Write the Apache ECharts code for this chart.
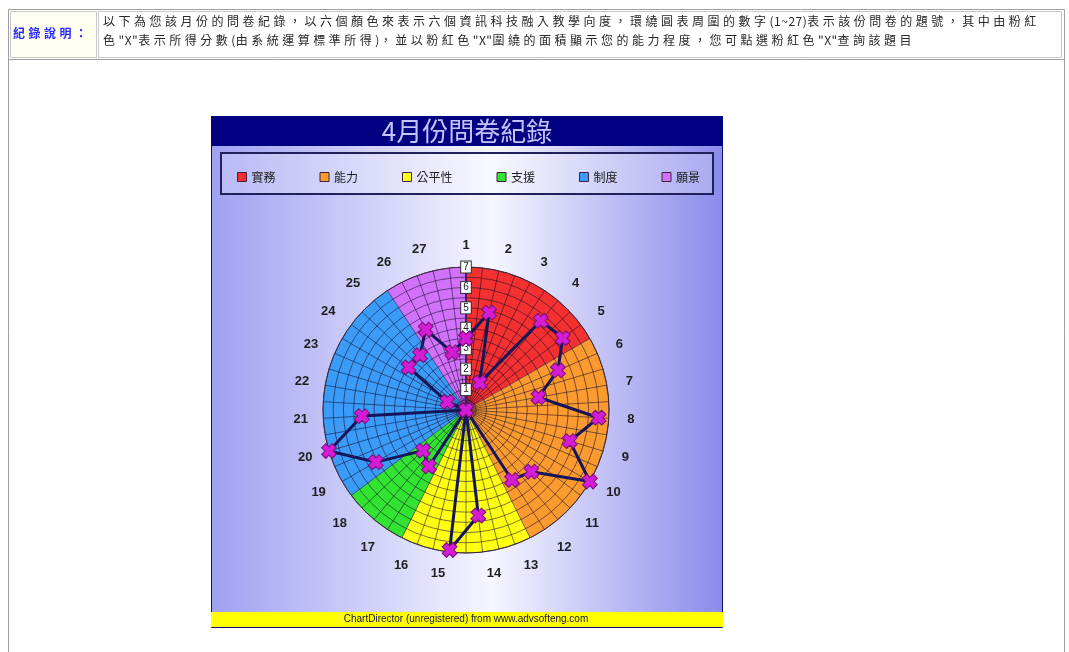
<!DOCTYPE html>
<html>
<head>
<meta charset="utf-8">
<title>4月份問卷紀錄</title>
<script src="https://cdn.jsdelivr.net/npm/echarts@6/dist/echarts.min.js"></script>
<style>
  html, body { margin: 0; padding: 0; background: #ffffff; }
  #wrap { position: relative; width: 1069px; height: 652px; overflow: hidden; }
  #chart { position: absolute; left: 0; top: 0; width: 1069px; height: 652px; }
  .desc { position: absolute; font-family: "Noto Sans CJK TC", sans-serif; white-space: nowrap; }
  #descTitle { left: 13px; top: 25px; font-size: 12px; line-height: 16px; font-weight: bold;
               color: #2a2aff; letter-spacing: 3.5px; }
  #descBody { left: 103px; top: 11px; font-size: 12px; line-height: 19px; color: #282828;
              letter-spacing: 3.5px; }
  #descBody .latin { letter-spacing: 0.5px; }
</style>
</head>
<body>
<div id="wrap">
  <div id="chart"></div>
  <div class="desc" id="descTitle"></div>
  <div class="desc" id="descBody"></div>
</div>
<script>
// Question numbers placed around the dial
const questionLabels = ['1','2','3','4','5','6','7','8','9','10','11','12','13','14','15','16','17','18','19','20','21','22','23','24','25','26','27'];
// Score of each question (0 - 7)
const scores = [3.5, 4.9, 1.5, 5.7, 5.9, 4.9, 3.6, 6.5, 5.3, 7.0, 4.4, 4.1, 0, 5.2, 6.9, 0, 3.3, 2.9, 5.1, 7.0, 5.1, 0, 1.0, 3.5, 3.5, 4.4, 2.9];
// Radial scale labels
const scoreTicks = ['0','1','2','3','4','5','6','7'];
// Six dimensions and the question-index bounds of their coloured zones
const zoneNames = ['實務', '能力', '公平性', '支援', '制度', '願景'];
const zoneBounds = [0, 4.5, 11.5, 15.5, 17.5, 24.5, 27];
const zoneColors = ['#f43030', '#fb9a2e', '#ffff12', '#32e332', '#3a9cf8', '#d272fb'];

const descTitle = '紀錄說明：';
const descLines = [
  '以下為您該月份的問卷紀錄，以六個顏色來表示六個資訊科技融入教學向度，環繞圓表周圍的數字(1~27)表示該份問卷的題號，其中由粉紅',
  '色"X"表示所得分數(由系統運算標準所得)，並以粉紅色"X"圍繞的面積顯示您的能力程度，您可點選粉紅色"X"查詢該題目'
];
const chartTitle = '4月份問卷紀錄';
const footerText = 'ChartDirector (unregistered) from www.advsofteng.com';

// Description text: wide spacing for CJK, tight spacing for half-width runs
document.getElementById('descTitle').textContent = descTitle;
const bodyEl = document.getElementById('descBody');
descLines.forEach(line => {
  const d = document.createElement('div');
  line.split(/([\x20-\x7e]+)/).forEach(part => {
    if (!part) return;
    const s = document.createElement('span');
    if (/^[\x20-\x7e]+$/.test(part)) s.className = 'latin';
    s.textContent = part;
    d.appendChild(s);
  });
  bodyEl.appendChild(d);
});

const CX = 466, CY = 410, R = 143;
const LABEL_R = 165;
const gridLine = { color: 'rgba(20,10,40,0.55)', width: 1 };

const zoneData = zoneNames.map((name, i) => ({
  name: name,
  value: zoneBounds[i + 1] - zoneBounds[i],
  itemStyle: { color: zoneColors[i] }
}));

const lineData = scores.map((v, i) => [v, i]);
lineData.push([scores[0], questionLabels.length]);

const crossPath = 'path://M3,0 L7,0 L7,3 L10,3 L10,7 L7,7 L7,10 L3,10 L3,7 L0,7 L0,3 L3,3 Z';

// Question numbers: placed outside the rim along each question's angle,
// nudged sideways so the text box hugs the dial like a tangential label.
function renderQuestionLabel(params, api) {
  const i = api.value(0);
  const cs = params.coordSys;
  const rim = api.coord([7, i]);
  const vx = rim[0] - cs.cx, vy = rim[1] - cs.cy;
  const len = Math.sqrt(vx * vx + vy * vy) || 1;
  const ux = vx / len, uy = vy / len;
  const text = questionLabels[i];
  const w = text.length * 7.5;
  const sx = (ux > 0.001 ? 1 : (ux < -0.001 ? -1 : 0)) * Math.abs(uy) * 0.6 * w;
  return {
    type: 'text',
    style: {
      x: cs.cx + ux * LABEL_R + sx,
      y: cs.cy + uy * LABEL_R,
      text: text,
      fill: '#1e1e1e',
      font: 'bold 13px "Liberation Sans", sans-serif',
      align: 'center',
      verticalAlign: 'middle'
    }
  };
}

const chart = echarts.init(document.getElementById('chart'), null, { renderer: 'canvas' });

chart.setOption({
  animation: false,
  textStyle: { fontFamily: 'Liberation Sans, Noto Sans CJK TC, sans-serif' },
  graphic: [
    // page frame and the description table
    { type: 'rect', z: 0, shape: { x: 8.5, y: 9.5, width: 1056, height: 700 },
      style: { fill: '#ffffff', stroke: '#a0a0a0', lineWidth: 1 } },
    { type: 'rect', z: 0, shape: { x: 10.5, y: 11.5, width: 86, height: 46 },
      style: { fill: '#fffff4', stroke: '#c8c8c8', lineWidth: 1 } },
    { type: 'rect', z: 0, shape: { x: 98.5, y: 11.5, width: 963, height: 46 },
      style: { fill: '#ffffff', stroke: '#c8c8c8', lineWidth: 1 } },
    { type: 'line', z: 0, shape: { x1: 8.5, y1: 59.5, x2: 1064.5, y2: 59.5 },
      style: { stroke: '#a0a0a0', lineWidth: 1 } },
    // chart panel
    { type: 'rect', z: 0, shape: { x: 211.5, y: 116.5, width: 511, height: 511 },
      style: {
        fill: new echarts.graphic.LinearGradient(0, 0, 1, 0, [
          { offset: 0, color: '#a0a0f2' },
          { offset: 0.55, color: '#f6f6ff' },
          { offset: 1, color: '#8a8aec' }
        ]),
        stroke: '#101070', lineWidth: 1
      } },
    { type: 'rect', z: 0, shape: { x: 211, y: 116, width: 512, height: 30 },
      style: { fill: '#000080' } },
    { type: 'text', z: 1, style: { x: 467, y: 131, text: chartTitle, fill: '#c4c4ff',
      font: '26px "Noto Sans CJK TC", sans-serif', align: 'center', verticalAlign: 'middle' } },
    { type: 'rect', z: 1, shape: { x: 221, y: 153, width: 492, height: 41 },
      style: { fill: 'rgba(255,255,255,0.25)', stroke: '#20205a', lineWidth: 2 } },
    { type: 'rect', z: 0, shape: { x: 211, y: 612, width: 512, height: 15 },
      style: { fill: '#ffff00' } },
    { type: 'text', z: 1, style: { x: 466, y: 619.5, text: footerText, fill: '#101050',
      font: '10px "Liberation Sans", sans-serif', align: 'center', verticalAlign: 'middle' } }
  ],
  legend: {
    data: zoneNames,
    left: 232,
    top: 166,
    z: 5,
    itemWidth: 9,
    itemHeight: 9,
    itemGap: 44,
    selectedMode: false,
    icon: 'rect',
    itemStyle: { borderColor: '#402040', borderWidth: 1 },
    textStyle: { fontSize: 12, color: '#202020', fontFamily: 'Noto Sans CJK TC' }
  },
  polar: { center: [CX, CY], radius: R },
  angleAxis: {
    type: 'value',
    min: 0,
    max: questionLabels.length,
    interval: 1,
    startAngle: 90,
    clockwise: true,
    z: 2,
    axisLine: { show: true, lineStyle: { color: '#3a2a3a', width: 1 } },
    axisTick: { show: false },
    axisLabel: { show: false },
    splitLine: { show: true, lineStyle: gridLine },
    minorTick: { show: false, splitNumber: 2 },
    minorSplitLine: { show: true, lineStyle: gridLine }
  },
  radiusAxis: {
    type: 'value',
    min: 0,
    max: 7,
    interval: 1,
    z: 2,
    axisLine: { show: true, lineStyle: { color: '#4a1a5a', width: 2 } },
    axisTick: { show: false },
    axisLabel: {
      margin: 0,
      align: 'center',
      verticalAlign: 'middle',
      fontSize: 10,
      color: '#202020',
      backgroundColor: '#ffffff',
      borderColor: '#303030',
      borderWidth: 1,
      padding: [1, 2, 0, 2],
      formatter: v => scoreTicks[v]
    },
    splitLine: { show: true, lineStyle: gridLine },
    minorTick: { show: false, splitNumber: 2 },
    minorSplitLine: { show: true, lineStyle: gridLine }
  },
  series: [
    {
      type: 'pie',
      name: 'zones',
      z: 1,
      silent: true,
      center: [CX, CY],
      radius: [0, R],
      startAngle: 90,
      clockwise: true,
      label: { show: false },
      labelLine: { show: false },
      itemStyle: { borderWidth: 0 },
      emphasis: { disabled: true },
      data: zoneData
    },
    {
      type: 'custom',
      name: 'question numbers',
      coordinateSystem: 'polar',
      silent: true,
      z: 2,
      data: questionLabels.map((_, i) => [i]),
      renderItem: renderQuestionLabel
    },
    {
      type: 'line',
      name: 'scores',
      coordinateSystem: 'polar',
      z: 3,
      data: lineData,
      symbol: crossPath,
      symbolSize: 15,
      symbolRotate: 45,
      lineStyle: { color: '#15155a', width: 3 },
      itemStyle: { color: '#d41cd4', borderColor: '#7a107a', borderWidth: 1 },
      emphasis: { disabled: true }
    }
  ]
});
</script>
</body>
</html>
